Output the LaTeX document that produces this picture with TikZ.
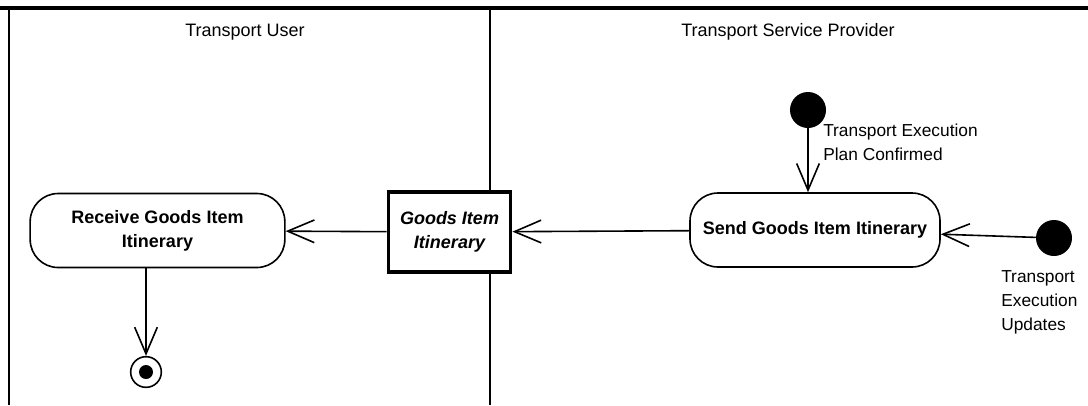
\documentclass[tikz,border=0pt]{standalone}
\usepackage{fontspec}
\setmainfont{Liberation Sans}
\usetikzlibrary{
  arrows.meta,
  positioning
}
\definecolor{laneInk}{HTML}{000000}
\tikzset{
  laneTitle/.style={font=\fontsize{13.5}{16}\selectfont, inner sep=0pt},
  laneLine/.style={draw=laneInk, line width=1.2pt},
  actionBox/.style={
    draw=laneInk,
    fill=white,
    line width=1.2pt,
    rounded corners=21pt,
    minimum height=55.5pt,
    align=center,
    font=\fontsize{13.5}{18}\bfseries\selectfont,
    inner sep=3pt
  },
  objectBox/.style={
    draw=laneInk,
    fill=white,
    line width=2.4pt,
    minimum width=92pt,
    minimum height=60pt,
    align=center,
    font=\fontsize{13.5}{18}\bfseries\itshape\selectfont,
    inner sep=3pt
  },
  flowArrow/.style={-{Straight Barb[length=20pt,width=17pt]}, line width=1.2pt, laneInk},
  flowLabel/.style={font=\fontsize{13}{18}\selectfont, align=left, inner sep=0pt, anchor=north west},
  startDot/.style={circle, fill=laneInk, minimum size=27pt, inner sep=0pt},
  endRing/.style={circle, draw=laneInk, line width=1.2pt, minimum size=23pt, inner sep=0pt},
  endDot/.style={circle, fill=laneInk, minimum size=10.5pt, inner sep=0pt}
}

\begin{document}
\begin{tikzpicture}[x=0.75pt,y=-0.75pt]
  \useasboundingbox (0,0) rectangle (1088,405);

  % swimlanes
  \draw[laneLine, line width=2.4pt] (0,8) -- (1088,8);
  \draw[laneLine] (9,8) -- (9,405);
  \draw[laneLine] (490,8) -- (490,405);
  \node[laneTitle] (userLane) at (245,32) {Transport User};
  \node[laneTitle] (providerLane) at (788,32) {Transport Service Provider};

  % nodes
  \node[startDot] (planStart) at (808,110) {};
  \node[startDot] (updateStart) at (1054,238) {};
  \node[actionBox, minimum width=187.5pt] (sendItin) at (815,230) {Send Goods Item Itinerary};
  \node[objectBox] (itinObj) at (449.5,232) {Goods Item\\Itinerary};
  \node[actionBox, minimum width=191pt] (recvItin) at (157.5,230.5) {Receive Goods Item\\Itinerary};
  \node[endRing] (flowEnd) at (146,372) {};
  \node[endDot] at (flowEnd) {};

  % labels
  \node[flowLabel] (planLabel) at (823,124) {Transport Execution\\Plan Confirmed};
  \node[flowLabel] (updateLabel) at (1001,270) {Transport\\Execution\\Updates};

  % flows
  \draw[flowArrow] (planStart) -- (sendItin.north -| planStart);
  \draw[flowArrow] (updateStart) -- (sendItin);
  \draw[flowArrow] (sendItin) -- (itinObj);
  \draw[flowArrow] (itinObj) -- (recvItin);
  \draw[flowArrow] (recvItin.south -| flowEnd) -- (flowEnd);
\end{tikzpicture}
\end{document}
